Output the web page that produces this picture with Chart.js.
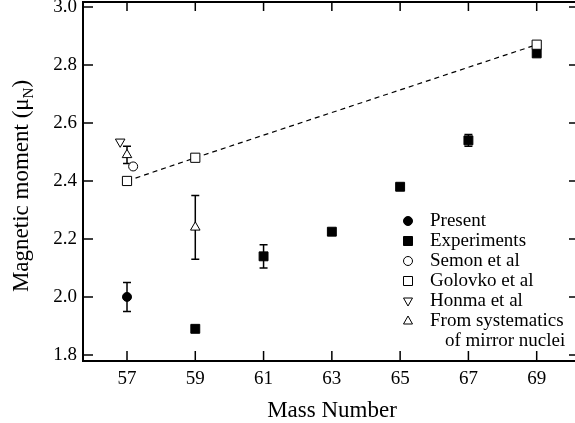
<!DOCTYPE html>
<html lang="en">
  <head>
    <meta charset="UTF-8" />
    <title>Magnetic moment vs mass number</title>
    <script src="https://cdn.jsdelivr.net/npm/chart.js"></script>
    <style>
      html,
      body {
        margin: 0;
        padding: 0;
        width: 575px;
        height: 423px;
        overflow: hidden;
        background: #fff;
      }
      canvas#momentChart {
        display: block;
      }
    </style>
  </head>
  <body>
    <canvas id="momentChart" width="575" height="423"></canvas>
    <script>
      // data
      const xTicks = [57, 59, 61, 63, 65, 67, 69];
      const yTicks = [1.8, 2.0, 2.2, 2.4, 2.6, 2.8, 3.0];

      const presentX = [57];
      const presentY = [2.0];
      const presentErr = [0.05];

      const expX = [59, 61, 63, 65, 67, 69];
      const expY = [1.89, 2.14, 2.225, 2.38, 2.54, 2.84];
      const expErr = [0, 0.04, 0, 0, 0.02, 0];

      const semonX = [57.18];
      const semonY = [2.45];

      const golovkoX = [57, 59, 69];
      const golovkoY = [2.4, 2.48, 2.87];

      const honmaX = [56.8];
      const honmaY = [2.535];

      const systX = [57, 59];
      const systY = [2.49, 2.24];
      const systErr = [0.03, 0.11];

      const FONT = "Liberation Serif";
      Chart.defaults.font.family = FONT;

      function pts(xs, ys, errs) {
        return xs.map((x, i) => ({ x: x, y: ys[i], err: errs ? errs[i] : 0 }));
      }

      function marker(ctx, style, x, y, r, filled) {
        ctx.save();
        ctx.beginPath();
        if (style === "circle") {
          ctx.arc(x, y, r, 0, Math.PI * 2);
        } else if (style === "rect") {
          ctx.rect(x - r, y - r, 2 * r, 2 * r);
        } else if (style === "up") {
          ctx.moveTo(x, y - r);
          ctx.lineTo(x + r * 0.9, y + r * 0.6);
          ctx.lineTo(x - r * 0.9, y + r * 0.6);
          ctx.closePath();
        } else if (style === "down") {
          ctx.moveTo(x, y + r);
          ctx.lineTo(x + r * 0.9, y - r * 0.6);
          ctx.lineTo(x - r * 0.9, y - r * 0.6);
          ctx.closePath();
        }
        ctx.fillStyle = filled ? "#000" : "#fff";
        ctx.fill();
        ctx.lineWidth = 1;
        ctx.strokeStyle = "#000";
        ctx.stroke();
        ctx.restore();
      }

      function noPad(s) {
        s.paddingLeft = 0;
        s.paddingRight = 0;
        s.paddingTop = 0;
        s.paddingBottom = 0;
      }

      const frameAndExtras = {
        id: "frameAndExtras",
        beforeDatasetsDraw(chart) {
          const { ctx, scales } = chart;
          const x = scales.x, y = scales.y;
          // error bars
          ctx.save();
          ctx.strokeStyle = "#000";
          ctx.lineWidth = 1.5;
          chart.data.datasets.forEach((ds) => {
            ds.data.forEach((p) => {
              if (!p.err) return;
              const px = x.getPixelForValue(p.x);
              const top = y.getPixelForValue(p.y + p.err);
              const bot = y.getPixelForValue(p.y - p.err);
              ctx.beginPath();
              ctx.moveTo(px, top);
              ctx.lineTo(px, bot);
              ctx.moveTo(px - 4, top);
              ctx.lineTo(px + 4, top);
              ctx.moveTo(px - 4, bot);
              ctx.lineTo(px + 4, bot);
              ctx.stroke();
            });
          });
          ctx.restore();
        },
        afterDraw(chart) {
          const { ctx, chartArea: a, scales } = chart;
          ctx.save();
          ctx.strokeStyle = "#000";
          ctx.lineWidth = 2;
          ctx.beginPath();
          ctx.moveTo(a.left, a.top + 1);
          ctx.lineTo(a.right, a.top + 1);
          ctx.moveTo(a.left, a.top);
          ctx.lineTo(a.left, a.bottom);
          ctx.lineTo(a.right, a.bottom);
          ctx.stroke();

          ctx.lineWidth = 1.5;
          ctx.beginPath();
          xTicks.forEach((v) => {
            const px = scales.x.getPixelForValue(v);
            ctx.moveTo(px, a.bottom);
            ctx.lineTo(px, a.bottom - 10);
            ctx.moveTo(px, a.top);
            ctx.lineTo(px, a.top + 10);
          });
          yTicks.forEach((v) => {
            const py = scales.y.getPixelForValue(v);
            ctx.moveTo(a.left, py);
            ctx.lineTo(a.left + 10, py);
            ctx.moveTo(a.right, py);
            ctx.lineTo(a.right - 6, py);
          });
          ctx.stroke();

          // axis titles
          ctx.fillStyle = "#000";
          ctx.font = "23px " + FONT;
          ctx.textAlign = "center";
          ctx.textBaseline = "alphabetic";
          ctx.fillText("Mass Number", 332, 417);

          ctx.save();
          ctx.translate(28, 186);
          ctx.rotate(-Math.PI / 2);
          const main = "Magnetic moment (\u03bc";
          const sub = "N";
          const close = ")";
          ctx.font = "23px " + FONT;
          const w1 = ctx.measureText(main).width;
          const w3 = ctx.measureText(close).width;
          ctx.font = "15px " + FONT;
          const w2 = ctx.measureText(sub).width;
          let sx = -(w1 + w2 + w3) / 2;
          ctx.textAlign = "left";
          ctx.font = "23px " + FONT;
          ctx.fillText(main, sx, 0);
          ctx.font = "15px " + FONT;
          ctx.fillText(sub, sx + w1, 5);
          ctx.font = "23px " + FONT;
          ctx.fillText(close, sx + w1 + w2, 0);
          ctx.restore();

          // legend
          const rows = [
            ["Present", "circle", true],
            ["Experiments", "rect", true],
            ["Semon et al", "circle", false],
            ["Golovko et al", "rect", false],
            ["Honma et al", "down", false],
            ["From systematics", "up", false],
          ];
          ctx.font = "19px " + FONT;
          ctx.textAlign = "left";
          ctx.textBaseline = "middle";
          rows.forEach((r, i) => {
            const yy = 221 + i * 20;
            const size = r[1] === "rect" ? 4.5 : r[1] === "circle" ? 4.5 : 5;
            marker(ctx, r[1], 408, yy, size, r[2]);
            ctx.fillStyle = "#000";
            ctx.fillText(r[0], 430, yy);
          });
          ctx.fillText("of mirror nuclei", 445, 341);
          ctx.restore();
        },
      };

      const ctx = document.getElementById("momentChart").getContext("2d");
      new Chart(ctx, {
        type: "scatter",
        data: {
          datasets: [
            {
              label: "Golovko et al",
              data: pts(golovkoX, golovkoY),
              showLine: true,
              borderColor: "#000",
              borderWidth: 1.2,
              borderDash: [5, 4],
              pointStyle: "rect",
              pointRadius: 6.5,
              pointBackgroundColor: "#fff",
              pointBorderColor: "#000",
              pointBorderWidth: 1,
            },
            {
              label: "Present",
              data: pts(presentX, presentY, presentErr),
              pointStyle: "circle",
              pointRadius: 4.5,
              pointBackgroundColor: "#000",
              pointBorderColor: "#000",
            },
            {
              label: "Experiments",
              data: pts(expX, expY, expErr),
              pointStyle: "rect",
              pointRadius: 6.3,
              pointBackgroundColor: "#000",
              pointBorderColor: "#000",
            },
            {
              label: "Semon et al",
              data: pts(semonX, semonY),
              pointStyle: "circle",
              pointRadius: 4.5,
              pointBackgroundColor: "#fff",
              pointBorderColor: "#000",
              pointBorderWidth: 1,
            },
            {
              label: "Honma et al",
              data: pts(honmaX, honmaY),
              pointStyle: "triangle",
              pointRotation: 180,
              pointRadius: 5.5,
              pointBackgroundColor: "#fff",
              pointBorderColor: "#000",
              pointBorderWidth: 1,
            },
            {
              label: "From systematics of mirror nuclei",
              data: pts(systX, systY, systErr),
              pointStyle: "triangle",
              pointRadius: 5.5,
              pointBackgroundColor: "#fff",
              pointBorderColor: "#000",
              pointBorderWidth: 1,
            },
          ],
        },
        options: {
          responsive: false,
          animation: false,
          layout: {
            autoPadding: false,
            padding: { top: 1, right: 0, left: 0, bottom: 0 },
          },
          plugins: {
            legend: { display: false },
            tooltip: { enabled: false },
          },
          scales: {
            x: {
              type: "linear",
              min: 55.711,
              max: 70.122,
              grid: { display: false, drawTicks: false },
              border: { display: false },
              afterBuildTicks: (s) => {
                s.ticks = xTicks.map((v) => ({ value: v }));
              },
              afterFit: (s) => {
                s.height = 62;
                noPad(s);
              },
              ticks: {
                padding: 7,
                color: "#000",
                font: { family: FONT, size: 19 },
                callback: (v) => String(v),
              },
            },
            y: {
              type: "linear",
              min: 1.779,
              max: 3.0207,
              grid: { display: false, drawTicks: false },
              border: { display: false },
              afterBuildTicks: (s) => {
                s.ticks = yTicks.map((v) => ({ value: v }));
              },
              afterFit: (s) => {
                s.width = 83;
                noPad(s);
              },
              ticks: {
                padding: 6,
                color: "#000",
                font: { family: FONT, size: 19 },
                callback: (v) => Number(v).toFixed(1),
              },
            },
          },
        },
        plugins: [frameAndExtras],
      });
    </script>
  </body>
</html>
